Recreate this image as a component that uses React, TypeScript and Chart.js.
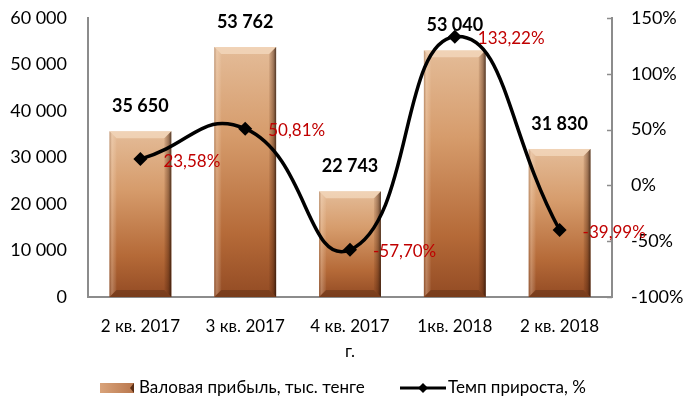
import React, { useEffect, useRef } from "react";
import { Chart, registerables } from "chart.js";

Chart.register(...registerables);

const categories = ["2 кв. 2017", "3 кв. 2017", "4 кв. 2017", "1кв. 2018", "2 кв. 2018"];
const grossProfit = [35650, 53762, 22743, 53040, 31830];
const growthRate = [23.58, 50.81, -57.7, 133.22, -39.99];
const barLabel = "Валовая прибыль, тыс. тенге";
const lineLabel = "Темп прироста, %";
const xTitle = "г.";

const FONT = "Lato, 'Open Sans', sans-serif";

const fmtThousands = (v: number) =>
  String(Math.round(v)).replace(/\B(?=(\d{3})+(?!\d))/g, " ");
const fmtPct = (v: number) => v.toFixed(2).replace(".", ",") + "%";

function drawBevelBar(ctx: CanvasRenderingContext2D, x: number, top: number, base: number, w: number) {
  const l = x - w / 2;
  const r = x + w / 2;
  const b = base;
  const t = top;
  const bev = Math.min(7, (b - t) / 3);
  const g = ctx.createLinearGradient(0, t, 0, b);
  g.addColorStop(0, "#e4bc98");
  g.addColorStop(0.35, "#d69c6c");
  g.addColorStop(0.75, "#b56a38");
  g.addColorStop(1, "#934b24");
  ctx.save();
  ctx.fillStyle = g;
  ctx.fillRect(l, t, w, b - t);
  // top bevel
  ctx.beginPath();
  ctx.moveTo(l, t); ctx.lineTo(r, t); ctx.lineTo(r - bev, t + bev); ctx.lineTo(l + bev, t + bev); ctx.closePath();
  ctx.fillStyle = "rgba(255,240,220,0.45)";
  ctx.fill();
  // left bevel (light)
  ctx.beginPath();
  ctx.moveTo(l, t); ctx.lineTo(l + bev, t + bev); ctx.lineTo(l + bev, b - bev); ctx.lineTo(l, b); ctx.closePath();
  const gl = ctx.createLinearGradient(l, 0, l + bev, 0);
  gl.addColorStop(0, "rgba(120,80,55,0.35)");
  gl.addColorStop(0.35, "rgba(255,235,215,0.3)");
  gl.addColorStop(1, "rgba(255,235,215,0.05)");
  ctx.fillStyle = gl;
  ctx.fill();
  // right bevel (dark)
  ctx.beginPath();
  ctx.moveTo(r, t); ctx.lineTo(r - bev, t + bev); ctx.lineTo(r - bev, b - bev); ctx.lineTo(r, b); ctx.closePath();
  const gr = ctx.createLinearGradient(r - bev, 0, r, 0);
  gr.addColorStop(0, "rgba(90,40,15,0.1)");
  gr.addColorStop(0.6, "rgba(60,25,8,0.4)");
  gr.addColorStop(1, "rgba(30,12,4,0.75)");
  ctx.fillStyle = gr;
  ctx.fill();
  // bottom bevel
  ctx.beginPath();
  ctx.moveTo(l, b); ctx.lineTo(l + bev, b - bev); ctx.lineTo(r - bev, b - bev); ctx.lineTo(r, b); ctx.closePath();
  ctx.fillStyle = "rgba(60,25,10,0.3)";
  ctx.fill();
  ctx.restore();
}

const customPlugin = {
  id: "custom",
  afterDatasetDraw(chart: any, args: any) {
    const ctx = chart.ctx as CanvasRenderingContext2D;
    if (args.index === 0) {
      const meta = chart.getDatasetMeta(0);
      meta.data.forEach((el: any) => {
        drawBevelBar(ctx, el.x, el.y, el.base, el.width);
      });
      ctx.save();
      ctx.font = `bold 18px ${FONT}`;
      ctx.fillStyle = "#000";
      ctx.textAlign = "center";
      ctx.textBaseline = "middle";
      meta.data.forEach((el: any, i: number) => {
        ctx.fillText(fmtThousands(grossProfit[i]), el.x, el.y - 25);
      });
      ctx.restore();
    }
  },
  afterDatasetsDraw(chart: any) {
    const ctx = chart.ctx as CanvasRenderingContext2D;
    const meta = chart.getDatasetMeta(1);
    ctx.save();
    ctx.font = `17px ${FONT}`;
    ctx.fillStyle = "#c00000";
    ctx.textAlign = "left";
    ctx.textBaseline = "middle";
    meta.data.forEach((el: any, i: number) => {
      ctx.fillText(fmtPct(growthRate[i]), el.x + 23, el.y + 2);
    });
    ctx.restore();
    const y1 = chart.scales.y1;
    ctx.save();
    ctx.strokeStyle = "#8c8c8c";
    ctx.lineWidth = 1.5;
    y1.ticks.forEach((t: any) => {
      const py = Math.round(y1.getPixelForValue(t.value)) + 0.5;
      ctx.beginPath();
      ctx.moveTo(y1.left - 5, py);
      ctx.lineTo(y1.left, py);
      ctx.stroke();
    });
    ctx.restore();
  },
  afterDraw(chart: any) {
    const ctx = chart.ctx as CanvasRenderingContext2D;
    const cy = 388;
    ctx.save();
    const sx = 100, sw = 34, sh = 10;
    const g = ctx.createLinearGradient(sx, 0, sx + sw, 0);
    g.addColorStop(0, "#d9a37a");
    g.addColorStop(1, "#b9774d");
    ctx.fillStyle = g;
    ctx.fillRect(sx, cy - sh / 2, sw, sh);
    ctx.fillStyle = "#5a2d14";
    ctx.beginPath();
    ctx.moveTo(sx + sw, cy - sh / 2);
    ctx.lineTo(sx + sw - 4, cy);
    ctx.lineTo(sx + sw, cy + sh / 2);
    ctx.closePath();
    ctx.fill();
    ctx.font = `17px ${FONT}`;
    ctx.fillStyle = "#000";
    ctx.textBaseline = "middle";
    ctx.textAlign = "left";
    ctx.fillText(barLabel, sx + sw + 5, cy);
    const lx = 400, lw = 46;
    ctx.strokeStyle = "#000";
    ctx.lineWidth = 3;
    ctx.beginPath();
    ctx.moveTo(lx, cy);
    ctx.lineTo(lx + lw, cy);
    ctx.stroke();
    ctx.fillStyle = "#000";
    ctx.beginPath();
    const mx = lx + lw / 2;
    ctx.moveTo(mx, cy - 5); ctx.lineTo(mx + 5, cy); ctx.lineTo(mx, cy + 5); ctx.lineTo(mx - 5, cy); ctx.closePath();
    ctx.fill();
    ctx.fillText(lineLabel, lx + lw + 2, cy);
    ctx.restore();
  },
};

export default function App() {
  const ref = useRef<HTMLCanvasElement | null>(null);
  useEffect(() => {
    document.body.style.margin = "0";
    const canvas = ref.current!;
    const chart = new Chart(canvas, {
      type: "bar",
      data: {
        labels: categories,
        datasets: [
          {
            type: "bar",
            label: barLabel,
            data: grossProfit,
            backgroundColor: "rgba(0,0,0,0)",
            borderWidth: 0,
            yAxisID: "y",
            order: 1,
            barPercentage: 0.59,
            categoryPercentage: 1,
          } as any,
          {
            type: "line",
            label: lineLabel,
            data: growthRate,
            borderColor: "#000",
            backgroundColor: "#000",
            borderWidth: 3.5,
            tension: 0.5,
            pointStyle: "rectRot",
            pointRadius: 7,
            pointBackgroundColor: "#000",
            pointBorderWidth: 0,
            yAxisID: "y1",
            order: 0,
          } as any,
        ],
      },
      options: {
        animation: false,
        responsive: false,
        maintainAspectRatio: false,
        layout: { padding: { top: 18, bottom: 39, left: 0, right: 0 } },
        plugins: { legend: { display: false }, tooltip: { enabled: false } },
        scales: {
          x: {
            offset: true,
            grid: { display: false, drawTicks: false },
            border: { display: true, color: "#8c8c8c", width: 2 },
            ticks: { color: "#000", font: { family: FONT, size: 17 }, padding: 19, maxRotation: 0 },
            title: { display: true, text: xTitle, color: "#000", font: { family: FONT, size: 17 }, padding: { top: 4, bottom: 0 } },
            afterFit(scale: any) { scale.height = 65; scale.paddingLeft = 0; scale.paddingRight = 0; },
          },
          y: {
            position: "left",
            min: 0,
            max: 60000,
            ticks: { stepSize: 10000, color: "#000", font: { family: FONT, size: 18 }, padding: 21, callback: (v: any) => fmtThousands(Number(v)) },
            grid: { display: false, drawTicks: false },
            border: { display: true, color: "#8c8c8c", width: 2 },
            afterFit(scale: any) { scale.width = 88; scale.paddingTop = 0; scale.paddingBottom = 0; },
          },
          y1: {
            position: "right",
            min: -100,
            max: 150,
            ticks: { stepSize: 50, color: "#000", font: { family: FONT, size: 18 }, padding: 19, callback: (v: any) => v + "%" },
            grid: { display: false, drawTicks: false },
            border: { display: true, color: "#8c8c8c", width: 2 },
            afterFit(scale: any) { scale.width = 75; scale.paddingTop = 0; scale.paddingBottom = 0; },
          },
        },
      },
      plugins: [customPlugin],
    });
    return () => chart.destroy();
  }, []);
  return (
    <div style={{ width: 687, height: 401, position: "relative" }}>
      <canvas ref={ref} width={687} height={401} style={{ display: "block" }} />
    </div>
  );
}
